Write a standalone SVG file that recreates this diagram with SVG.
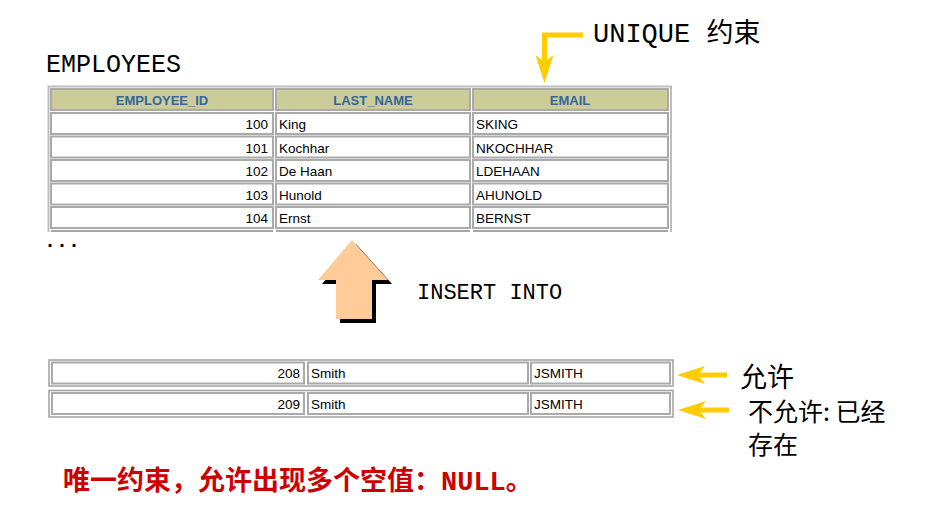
<svg xmlns="http://www.w3.org/2000/svg" width="949" height="525" viewBox="0 0 949 525">
<style>
.mono{font-family:"Liberation Mono","Noto Sans CJK SC",monospace;fill:#000}
.cjk{font-family:"Noto Sans CJK SC",sans-serif;fill:#000}
.frame{fill:none;stroke:#bdbdbd;stroke-width:2}
.cell{fill:#fff;stroke:#aaaaaa;stroke-width:2}
.hdr{fill:#cccc99;stroke:#aaaaaa;stroke-width:2}
.ht{font-family:"Liberation Sans",Arial,sans-serif;font-size:13px;font-weight:bold;fill:#336699;text-anchor:middle}
.dt{font-family:"Liberation Sans",Arial,sans-serif;font-size:13.5px;fill:#000}
.num{text-anchor:end}
.ya{fill:none;stroke:#ffcc00;stroke-width:5;stroke-linecap:butt;stroke-linejoin:miter}
</style>
<defs>
<marker id="yhead" markerUnits="userSpaceOnUse" markerWidth="28" markerHeight="18" viewBox="0 0 28 18" refX="7" refY="9" orient="auto" overflow="visible">
<path d="M0,0 L28,9 L0,18 L7,9 Z" fill="#ffcc00"/>
</marker>
</defs>

<g id="title-employees">
<text class="mono" x="46" y="72" font-size="25">EMPLOYEES</text>
</g>

<g id="table-employees">
<path class="frame" d="M48.5,232 V86.5 H671 V232"/>
<rect class="hdr" x="51" y="89" width="222" height="21"/>
<rect class="hdr" x="276" y="89" width="194" height="21"/>
<rect class="hdr" x="473" y="89" width="195" height="21"/>
<text class="ht" x="162" y="105">EMPLOYEE_ID</text>
<text class="ht" x="373" y="105">LAST_NAME</text>
<text class="ht" x="570" y="105">EMAIL</text>

<rect class="cell" x="51" y="113" width="222" height="21"/>
<rect class="cell" x="276" y="113" width="194" height="21"/>
<rect class="cell" x="473" y="113" width="195" height="21"/>
<text class="dt num" x="268" y="129">100</text>
<text class="dt" x="279" y="129">King</text>
<text class="dt" x="476" y="129">SKING</text>

<rect class="cell" x="51" y="136.5" width="222" height="21"/>
<rect class="cell" x="276" y="136.5" width="194" height="21"/>
<rect class="cell" x="473" y="136.5" width="195" height="21"/>
<text class="dt num" x="268" y="152.5">101</text>
<text class="dt" x="279" y="152.5">Kochhar</text>
<text class="dt" x="476" y="152.5">NKOCHHAR</text>

<rect class="cell" x="51" y="160" width="222" height="21"/>
<rect class="cell" x="276" y="160" width="194" height="21"/>
<rect class="cell" x="473" y="160" width="195" height="21"/>
<text class="dt num" x="268" y="176">102</text>
<text class="dt" x="279" y="176">De Haan</text>
<text class="dt" x="476" y="176">LDEHAAN</text>

<rect class="cell" x="51" y="183.5" width="222" height="21"/>
<rect class="cell" x="276" y="183.5" width="194" height="21"/>
<rect class="cell" x="473" y="183.5" width="195" height="21"/>
<text class="dt num" x="268" y="199.5">103</text>
<text class="dt" x="279" y="199.5">Hunold</text>
<text class="dt" x="476" y="199.5">AHUNOLD</text>

<rect class="cell" x="51" y="207" width="222" height="21"/>
<rect class="cell" x="276" y="207" width="194" height="21"/>
<rect class="cell" x="473" y="207" width="195" height="21"/>
<text class="dt num" x="268" y="223">104</text>
<text class="dt" x="279" y="223">Ernst</text>
<text class="dt" x="476" y="223">BERNST</text>

<path d="M51,231 H273 M276,231 H470 M473,231 H668" stroke="#888" stroke-width="1.5" fill="none"/>
</g>

<g id="ellipsis">
<text class="mono" x="44" y="247" font-size="20" font-weight="bold">...</text>
</g>

<g id="insert-arrow">
<polygon transform="translate(4,4)" points="352,240 388,280 372,280 372,319 336,319 336,280 318,280" fill="#000"/>
<polygon points="352,240 388,280 372,280 372,319 336,319 336,280 318,280" fill="#ffcc99"/>
</g>

<g id="label-insert">
<text class="mono" x="417" y="299" font-size="22">INSERT INTO</text>
</g>

<g id="label-unique">
<text class="mono" x="593" y="42" font-size="27">UNIQUE 约束</text>
</g>

<g id="row-208">
<rect x="49" y="360" width="624" height="26" fill="#fff" stroke="#a0a0a0" stroke-width="1.5"/>
<rect class="cell" x="52" y="362.5" width="252" height="21"/>
<rect class="cell" x="308" y="362.5" width="220" height="21"/>
<rect class="cell" x="531" y="362.5" width="139" height="21"/>
<text class="dt num" x="300" y="378">208</text>
<text class="dt" x="311" y="378">Smith</text>
<text class="dt" x="534" y="378">JSMITH</text>
</g>

<g id="row-209">
<rect x="49" y="390.5" width="624" height="26.5" fill="#fff" stroke="#a0a0a0" stroke-width="1.5"/>
<rect class="cell" x="52" y="393" width="252" height="21"/>
<rect class="cell" x="308" y="393" width="220" height="21"/>
<rect class="cell" x="531" y="393" width="139" height="21"/>
<text class="dt num" x="300" y="409">209</text>
<text class="dt" x="311" y="409">Smith</text>
<text class="dt" x="534" y="409">JSMITH</text>
</g>

<g id="label-allow">
<text class="cjk" x="740" y="387" font-size="27">允许</text>
</g>

<g id="label-deny">
<text class="cjk" font-size="25"><tspan x="748" y="421">不允许: 已经</tspan><tspan x="748" y="454">存在</tspan></text>
</g>

<g id="note">
<text x="63" y="490" font-size="27" font-weight="bold" fill="#cc0000" font-family="'Liberation Mono','Noto Sans CJK SC',monospace">唯一约束，允许出现多个空值：NULL。</text>
</g>

<g id="connectors">
<path class="ya" d="M583,35 H544.5 V62" marker-end="url(#yhead)"/>
<path class="ya" d="M727,375 H698" marker-end="url(#yhead)"/>
<path class="ya" d="M729,410 H699" marker-end="url(#yhead)"/>
</g>
</svg>
